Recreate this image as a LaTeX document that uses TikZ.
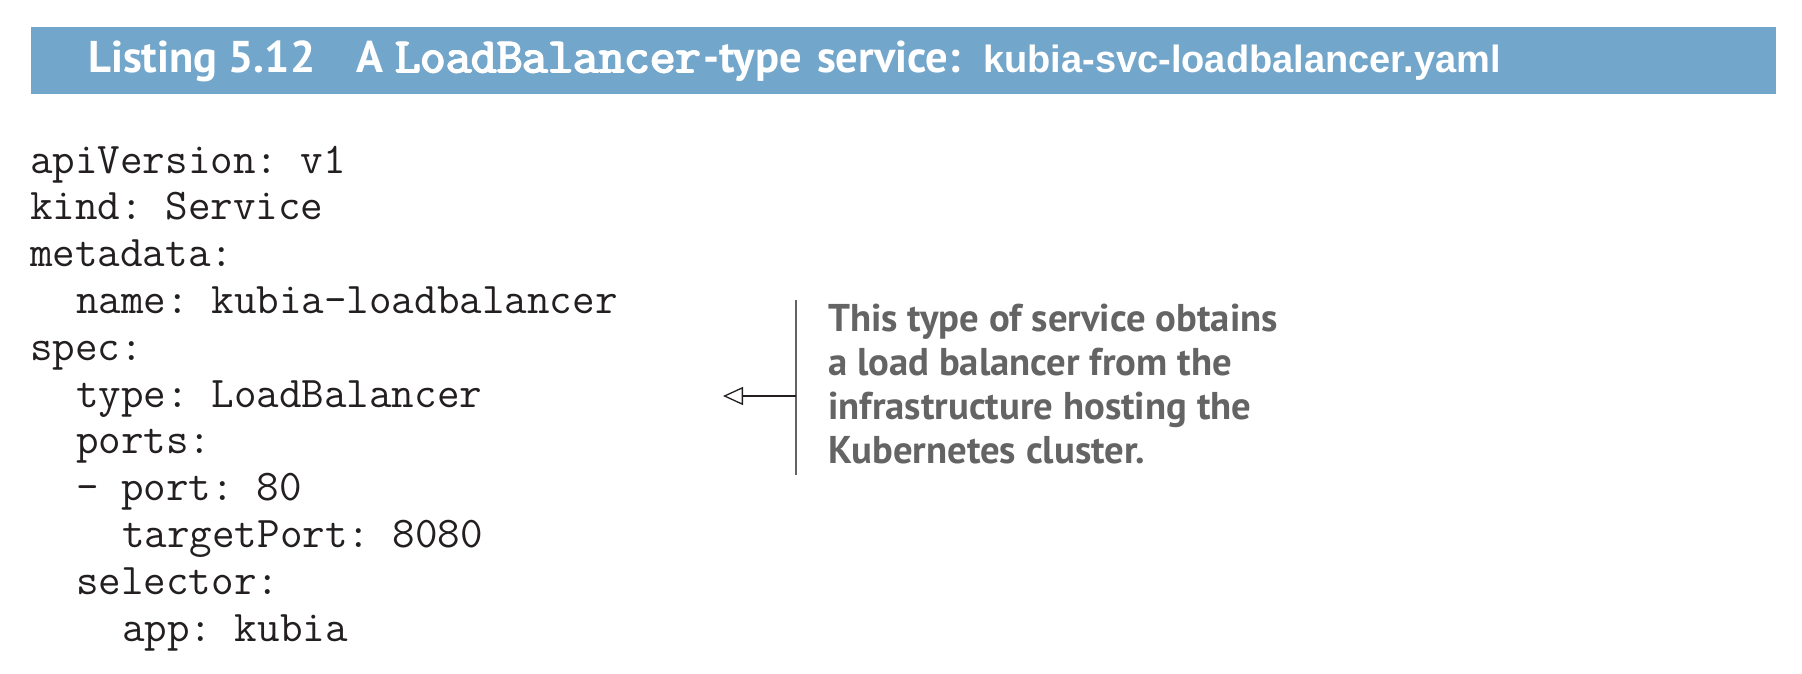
\documentclass[tikz,border=0pt]{standalone}
\usepackage{fontspec}
\usetikzlibrary{arrows.meta}
\newfontfamily\notefont{PT Sans}
\newfontfamily\filefont{Liberation Sans}
\newfontfamily\codefont{Latin Modern Mono}
\definecolor{barblue}{RGB}{115,166,203}
\definecolor{codeink}{RGB}{35,31,32}
\definecolor{noteink}{RGB}{100,100,100}
\tikzset{
  codeline/.style={anchor=base west,inner sep=0pt,text=codeink,font=\codefont\frenchspacing\fontsize{43.8}{46}\selectfont},
  noteline/.style={anchor=base west,inner sep=0pt,text=noteink,font=\notefont\bfseries\fontsize{38.7}{44}\selectfont},
  titletext/.style={anchor=base west,inner sep=0pt,text=white,font=\notefont\bfseries\fontsize{44.5}{48}\selectfont}
}

\begin{document}
\begin{tikzpicture}[x=1pt,y=-1pt,>={Triangle[open,length=20pt,width=18pt]}]
	\useasboundingbox (0,0) rectangle (1802,674);
	\fill[barblue] (31,27) rectangle (1776,94);
	\node[titletext] (listno) at (88,73) {Listing 5.12};
	\node[titletext] (ttlA) at (356,73) {A};
	% heavy typewriter face: the same word laid down a few times
	\foreach \k/\dx/\dy in {a/0/0,b/0.9/0,c/-0.9/0,d/0/0.9,e/0/-0.9,f/0.6/0.6,g/-0.6/-0.6}
		\node[titletext,font=\codefont\fontsize{49.5}{52}\selectfont] (ttlcode\k) at ({395+\dx},{73+\dy}) {LoadBalancer};
	\node[titletext] (ttltype) at (703,73) {-type};
	\node[titletext] (ttlsvc) at (817,73) {service:};
	\node[titletext,font=\filefont\bfseries\fontsize{38}{42}\selectfont] (ttlfile) at (983,73) {kubia-svc-loadbalancer.yaml};

	\foreach \n/\ind/\txt in
		{1/0/{apiVersion: v1},2/0/{kind: Service},3/0/{metadata:},4/2/{name: kubia-loadbalancer},
		 5/0/{spec:},6/2/{type: LoadBalancer},7/2/{ports:},8/2/{- port: 80},
		 9/4/{targetPort: 8080},10/2/{selector:},11/4/{app: kubia}}
			\node[codeline] (code\n) at ({30+23*\ind},{173+46.8*(\n-1)}) {\txt};

	\foreach \n/\txt in
		{1/{This type of service obtains},2/{a load balancer from the},
		 3/{infrastructure hosting the},4/{Kubernetes cluster.}}
			\node[noteline] (note\n) at (828,{331+44*(\n-1)}) {\txt};

	\coordinate (brktop) at (796,300);
	\coordinate (brkbot) at (796,475);
	\coordinate (brk) at (796,396);
	\coordinate (tip) at (723,396);
	\draw[line width=2pt,noteink] (brktop) -- (brkbot);
	\draw[->,line width=1.3pt,codeink] (brk) -- (tip);
\end{tikzpicture}
\end{document}
